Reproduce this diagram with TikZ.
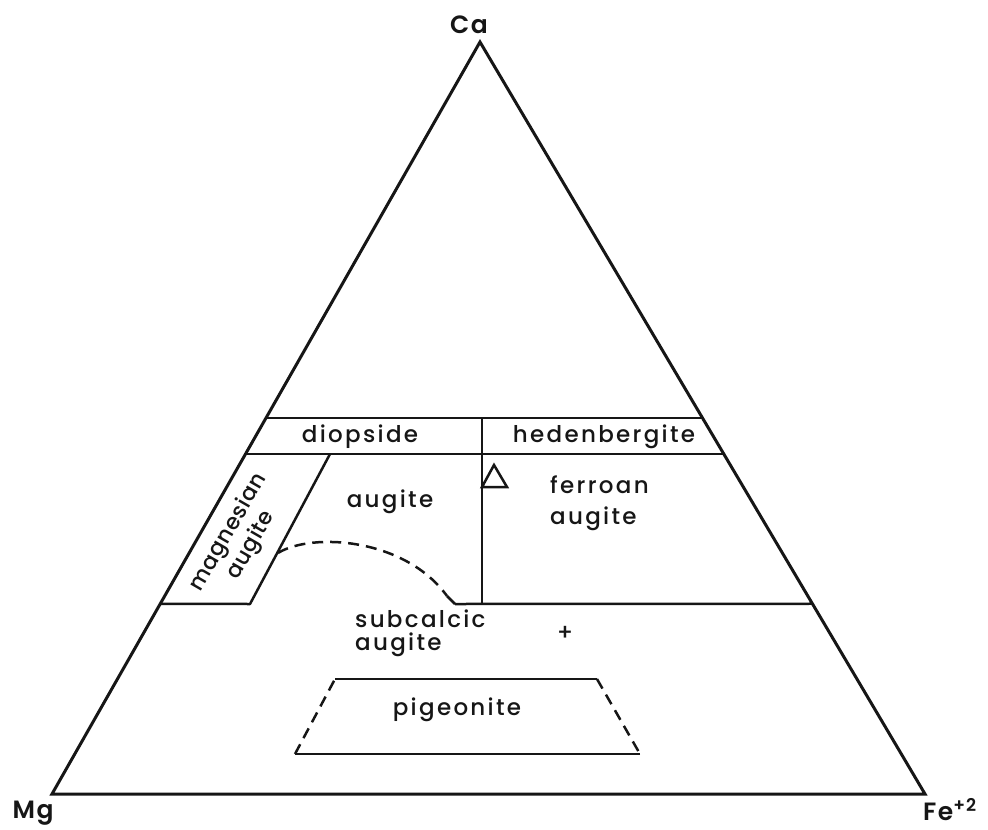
\documentclass[tikz,border=0pt]{standalone}
\usepackage{fontspec}
\setmainfont{Poppins}
\newfontfamily\lblfont[LetterSpace=10]{Poppins Medium}
\newfontfamily\tightfont[LetterSpace=3]{Poppins Medium}
\newfontfamily\cornerfont[LetterSpace=6]{Poppins SemiBold}
\usetikzlibrary{calc}
\definecolor{pxink}{RGB}{22,22,22}
\tikzset{
  tri/.style={draw=pxink, line width=3pt, line join=miter},
  bnd/.style={draw=pxink, line width=2.5pt},
  dbnd/.style={bnd, dash pattern=on 11pt off 7pt},
  lbl/.style={font=\lblfont\fontsize{23}{31}\selectfont, text=pxink, inner sep=0pt, align=center},
  corner/.style={font=\cornerfont\fontsize{25}{28}\selectfont, text=pxink, inner sep=0pt},
  every picture/.append style={line join=round}
}

\begin{document}
\begin{tikzpicture}[x=1pt, y=-1pt]
  \useasboundingbox (0,0) rectangle (988,830);
  % corners of the triangle
  \coordinate (Ca) at (480,42);
  \coordinate (Mg) at (52,794);
  \coordinate (Fe) at (925,794);
  \draw[tri] (Mg) -- (Ca) -- (Fe) -- cycle;
  \node[corner] (ca) at (469,25) {Ca};
  \node[corner] (mg) at (33,813) {Mg};
  \node[corner] (fe) at (950,810) {Fe\textsuperscript{+2}};
  % Ca 50, 45 and 25 lines
  \coordinate (w50l) at ($(Mg)!0.5!(Ca)$);
  \coordinate (w50r) at ($(Fe)!0.5!(Ca)$);
  \coordinate (w45l) at ($(Mg)!0.452!(Ca)$);
  \coordinate (w45r) at ($(Fe)!0.452!(Ca)$);
  \coordinate (w25l) at ($(Mg)!0.253!(Ca)$);
  \coordinate (w25r) at ($(Fe)!0.253!(Ca)$);
  \coordinate (magt) at (330,454);
  \coordinate (magb) at (250,604);
  \coordinate (magc) at (278,553);
  \coordinate (subj) at (455,604);
  \coordinate (midt) at (482,418);
  \coordinate (midb) at (482,604);
  \draw[bnd] (w50l) -- (w50r);
  \draw[bnd] (w45l) -- (w45r);
  \draw[bnd] (w25l) -- (magb) -- (magt);
  \draw[bnd] (subj) -- (w25r);
  \draw[bnd] (midt) -- (midb);
  \draw[dbnd] (magc) .. controls (312,532) and (405,538) .. (447,596);
  \draw[bnd] (447,596) -- (subj);
  % open triangle
  \coordinate (smp) at (494,480);
  \draw[bnd, line join=miter] ($(smp)+(-12,7)$) -- ($(smp)+(0,-15)$) -- ($(smp)+(13,7)$) -- cycle;
  % pigeonite field
  \coordinate (pg1) at (335,679);
  \coordinate (pg2) at (597,679);
  \coordinate (pg3) at (640,754);
  \coordinate (pg4) at (295,754);
  \draw[bnd] (pg1) -- (pg2);
  \draw[dbnd] (pg2) -- (pg3);
  \draw[bnd] (pg3) -- (pg4);
  \draw[dbnd] (pg4) -- (pg1);
  % field names
  \node[lbl] (diop) at (360,437) {diopside};
  \node[lbl] (hed) at (604,437) {hedenbergite};
  \node[lbl] (aug) at (390,502) {augite};
  \node[lbl, anchor=west, align=left] (fer) at (550,503) {ferroan\\augite};
  \node[lbl, rotate=60, font=\tightfont\fontsize{22}{26}\selectfont] (mag) at (240,539) {magnesian\\augite};
  \node[lbl, anchor=west, align=left, font=\lblfont\fontsize{23}{23}\selectfont] (sub) at (355,633) {subcalcic\\augite};
  \node[lbl] (plus) at (565,633) {+};
  \node[lbl] (pig) at (457,710) {pigeonite};
\end{tikzpicture}
\end{document}
